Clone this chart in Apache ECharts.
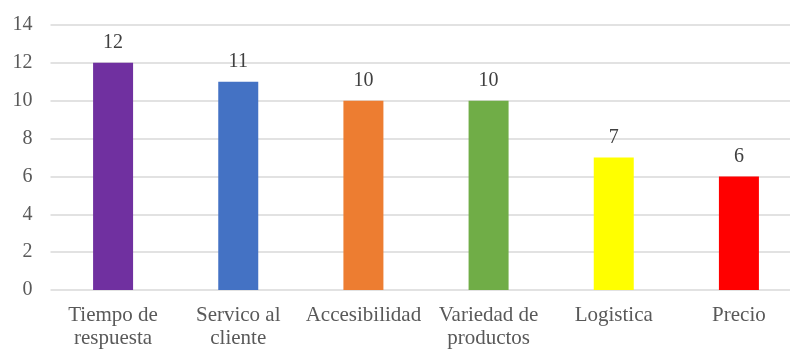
<!DOCTYPE html>
<html>
<head>
<meta charset="utf-8">
<style>
  html, body { margin: 0; padding: 0; background: #fff; }
  #chart { width: 790px; height: 350px; }
</style>
<script src="https://cdn.jsdelivr.net/npm/echarts@6/dist/echarts.min.js"></script>
</head>
<body>
<div id="chart"></div>
<script>
// Factores evaluados y número de menciones
const categories = ['Tiempo de\nrespuesta', 'Servico al\ncliente', 'Accesibilidad', 'Variedad de\nproductos', 'Logistica', 'Precio'];
const values = [12, 11, 10, 10, 7, 6];
const barColors = ['#7030A0', '#4472C4', '#ED7D31', '#70AD47', '#FFFF00', '#FF0000'];
const yTicks = [0, 2, 4, 6, 8, 10, 12, 14];

const textColor = '#595959';
const fontFamily = '"Liberation Serif", "Times New Roman", serif';

const chart = echarts.init(document.getElementById('chart'), null, { renderer: 'canvas' });
chart.setOption({
  animation: false,
  textStyle: { fontFamily: fontFamily },
  grid: {
    left: 50.5, top: 25, width: 751, bottom: 60,
    containLabel: false, outerBoundsMode: 'none'
  },
  xAxis: {
    type: 'category',
    data: categories,
    axisTick: { show: false },
    axisLine: { show: false },
    axisLabel: {
      color: textColor, fontSize: 21, fontFamily: fontFamily,
      lineHeight: 23, margin: 14, interval: 0
    }
  },
  yAxis: {
    type: 'value',
    min: yTicks[0],
    max: yTicks[yTicks.length - 1],
    interval: yTicks[1] - yTicks[0],
    axisLine: { show: false },
    axisTick: { show: false },
    axisLabel: { color: textColor, fontSize: 20, fontFamily: fontFamily, margin: 18 },
    splitLine: { lineStyle: { color: '#d9d9d9', width: 1.5 } }
  },
  series: [{
    type: 'bar',
    barWidth: 40,
    data: values.map((v, i) => ({ value: v, itemStyle: { color: barColors[i] } })),
    label: {
      show: true, position: 'top', distance: 10,
      color: '#404040', fontSize: 20, fontFamily: fontFamily
    }
  }]
});
</script>
</body>
</html>
